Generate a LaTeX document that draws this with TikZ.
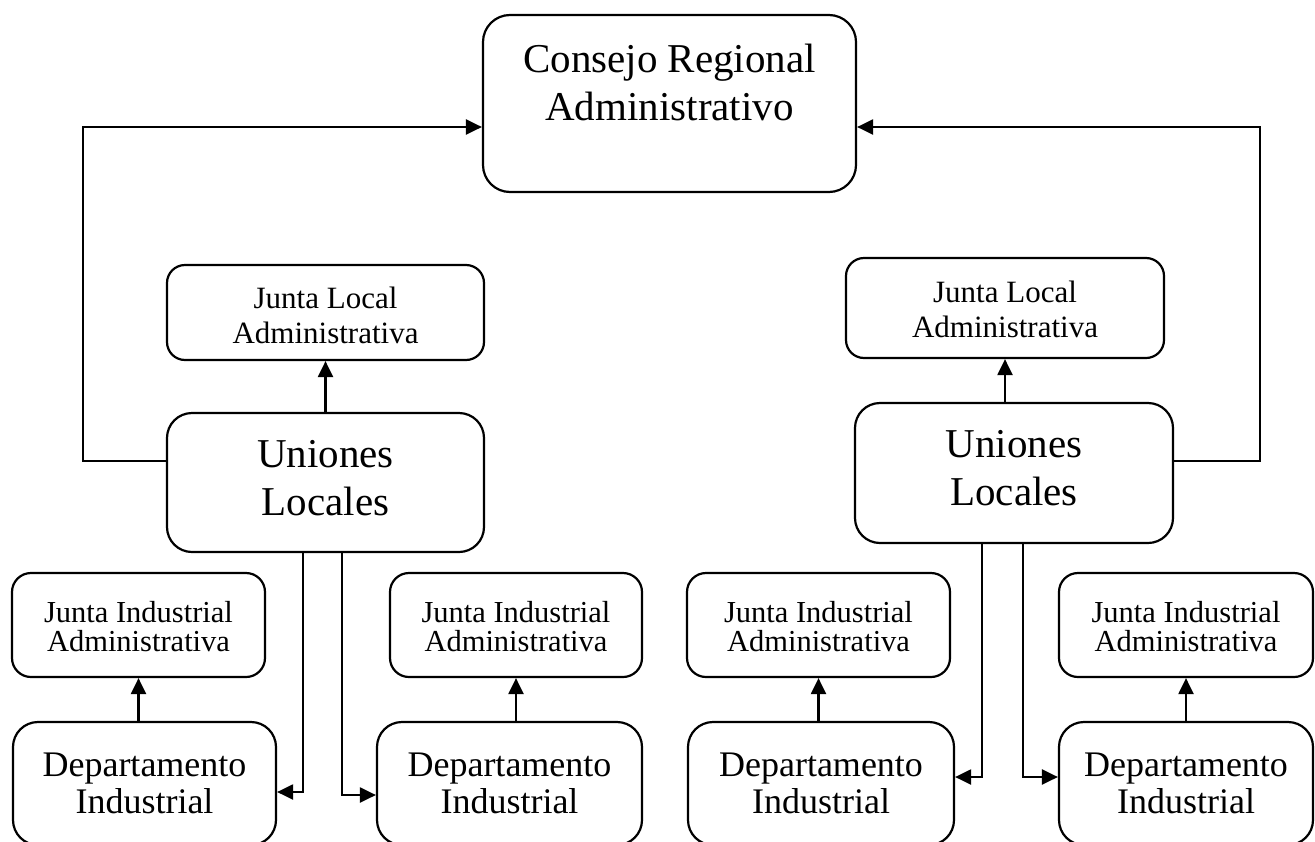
\documentclass[tikz,border=0pt]{standalone}
\usepackage{fontspec}
\setmainfont{Liberation Serif}
\usetikzlibrary{arrows.meta}

\begin{document}
\begin{tikzpicture}[x=1pt,y=-1pt,line width=2.2pt,
  caja/.style={draw,align=center,inner sep=0pt,anchor=base},
  grande/.style={caja,rounded corners=27pt,font=\fontsize{41}{48}\selectfont},
  junta/.style={caja,rounded corners=18pt,minimum width=317pt,font=\fontsize{31}{35}\selectfont},
  jind/.style={caja,rounded corners=19pt,text height=78pt,text depth=26pt,font=\fontsize{30.5}{28.5}\selectfont},
  depto/.style={caja,rounded corners=25pt,text height=91pt,text depth=32pt,font=\fontsize{36}{36.5}\selectfont},
  flecha/.style={-{Triangle[length=16pt,width=15pt]}}]
\useasboundingbox (0,0) rectangle (1315,841);
\clip (0,0) rectangle (1315,841);

\node[grande,minimum width=373pt,text height=105pt,text depth=72pt] (cra) at (669.5,120) {Consejo Regional\\Administrativo};

\node[junta,text height=78pt,text depth=17pt] (jlaI) at (325.5,343) {Junta Local\\Administrativa};
\node[junta,minimum width=318pt,text height=79pt,text depth=21pt] (jlaD) at (1005,337) {Junta Local\\Administrativa};

\node[grande,rounded corners=25pt,minimum width=317pt,text height=102pt,text depth=37pt] (ulI) at (325.5,515) {Uniones\\Locales};
\node[grande,rounded corners=25pt,minimum width=318pt,text height=102pt,text depth=38pt] (ulD) at (1014,505) {Uniones\\Locales};

\node[jind,minimum width=253pt] (jiaA) at (138.5,651) {Junta Industrial\\Administrativa};
\node[jind,minimum width=252pt] (jiaB) at (516,651) {Junta Industrial\\Administrativa};
\node[jind,minimum width=263pt] (jiaC) at (818.5,651) {Junta Industrial\\Administrativa};
\node[jind,minimum width=254pt] (jiaD) at (1186,651) {Junta Industrial\\Administrativa};

\node[depto,minimum width=263pt] (diA) at (144.5,813) {Departamento\\Industrial};
\node[depto,minimum width=265pt] (diB) at (509.5,813) {Departamento\\Industrial};
\node[depto,minimum width=266pt] (diC) at (821,813) {Departamento\\Industrial};
\node[depto,minimum width=254pt] (diD) at (1186,813) {Departamento\\Industrial};

\coordinate (salI) at (83,461);
\coordinate (llegI) at (83,127);
\coordinate (salD) at (1260,461);
\coordinate (llegD) at (1260,127);
\coordinate (bajA) at (303,792);
\coordinate (bajB) at (342,795);
\coordinate (bajC) at (982,777);
\coordinate (bajD) at (1023,777);

\draw[flecha] (ulI.west |- salI) -- (salI) -- (llegI) -- (llegI -| cra.west);
\draw[flecha] (ulD.east |- salD) -- (salD) -- (llegD) -- (llegD -| cra.east);

\draw[flecha] (jlaI.south |- ulI.north) -- (jlaI.south);
\draw[flecha] (jlaD.south |- ulD.north) -- (jlaD.south);

\draw[flecha] (jiaA.south |- diA.north) -- (jiaA.south);
\draw[flecha] (jiaB.south |- diB.north) -- (jiaB.south);
\draw[flecha] (jiaC.south |- diC.north) -- (jiaC.south);
\draw[flecha] (jiaD.south |- diD.north) -- (jiaD.south);

\draw[flecha] (ulI.south -| bajA) |- (bajA -| diA.east);
\draw[flecha] (ulI.south -| bajB) |- (bajB -| diB.west);
\draw[flecha] (ulD.south -| bajC) |- (bajC -| diC.east);
\draw[flecha] (ulD.south -| bajD) |- (bajD -| diD.west);
\end{tikzpicture}
\end{document}
